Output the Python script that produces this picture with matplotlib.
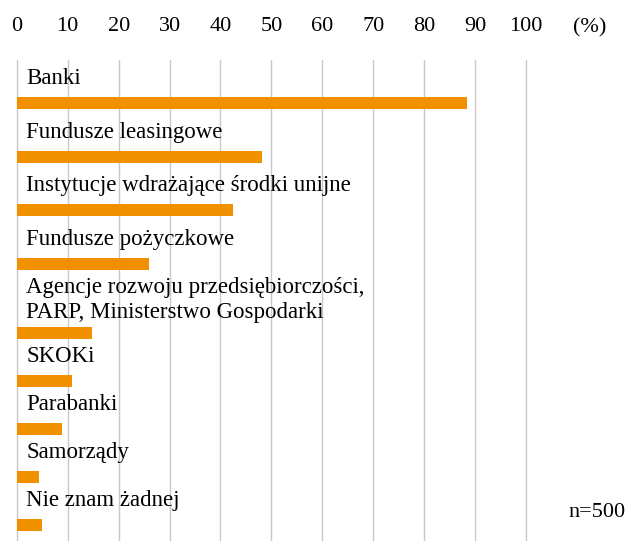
import matplotlib
matplotlib.use("Agg")
import matplotlib.pyplot as plt

# data
categories = [
    "Banki",
    "Fundusze leasingowe",
    "Instytucje wdrażające środki unijne",
    "Fundusze pożyczkowe",
    "Agencje rozwoju przedsiębiorczości,\nPARP, Ministerstwo Gospodarki",
    "SKOKi",
    "Parabanki",
    "Samorządy",
    "Nie znam żadnej",
]
values = [88.4, 48.1, 42.4, 25.9, 14.7, 10.8, 8.9, 4.4, 4.9]
ticks = [0, 10, 20, 30, 40, 50, 60, 70, 80, 90, 100]
note = "n=500"

plt.rcParams['font.family'] = ['Liberation Serif', 'DejaVu Serif']
W, H = 627, 541
fig = plt.figure(figsize=(W / 100, H / 100), dpi=100)
top_px = 60
ax = fig.add_axes([0, 0, 1, (H - top_px) / H])

# vertical layout in pixel units (y axis inverted)
row_gap = [54, 53, 54, 69, 48, 48, 48, 48]
centers = [103]
for g in row_gap:
    centers.append(centers[-1] + g)

ax.barh(centers, values, height=11.5, color='#F29100', zorder=2)
for c, lab in zip(centers, categories):
    nlines = lab.count("\n") + 1
    # baseline of the last line
    ax.text(1.9, c - 18.7 + 4 * (nlines - 1), lab, fontsize=16.5,
            va='baseline', ha='left', linespacing=1.3, zorder=3)

px = 5.092  # pixels per unit
ax.set_xlim(-16.8 / px, (W - 16.8) / px)
ax.set_ylim(H, top_px)
ax.set_xticks(ticks)
ax.set_xticklabels([str(t) for t in ticks])
ax.xaxis.tick_top()
ax.tick_params(axis='x', length=0, pad=17, labelsize=16)
ax.set_yticks([])
ax.grid(axis='x', color='#c8c8c8', linewidth=1, zorder=0)
for s in ax.spines.values():
    s.set_visible(False)

fig.text(590 / W, 1 - 32 / H, "(%)", fontsize=16, ha='center', va='baseline')
fig.text(597 / W, 1 - 517 / H, note, fontsize=16, ha='center', va='baseline')

fig.savefig("out.png", dpi=100)
